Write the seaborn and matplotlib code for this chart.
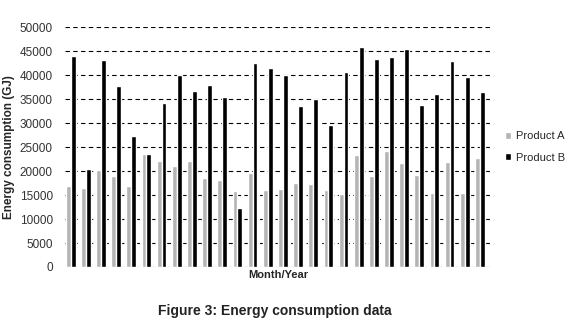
import numpy as np
import pandas as pd
import matplotlib
matplotlib.use('Agg')
import matplotlib.pyplot as plt
import seaborn as sns
from matplotlib.patches import Patch

sns.set_style('white')
plt.rcParams['font.family'] = ['Liberation Sans', 'DejaVu Sans']

months = [str(n) for n in range(1, 29)]
product_a = [16960, 16540, 20220, 19040, 16960, 23550, 22090, 21120, 22090, 18620,
             18140, 15860, 19600, 16060, 16270, 17520, 17310, 16060, 15300, 23340,
             18970, 24170, 21670, 19180, 15440, 21880, 15440, 22710]
product_b = [43900, 20430, 43080, 37680, 27290, 23550, 34150, 39900, 36700, 37880,
             35390, 12320, 42460, 41420, 39960, 33520, 34980, 29570, 40590, 45780,
             43290, 43700, 45370, 33730, 36010, 42870, 39550, 36430]

df = pd.DataFrame({'Month': months, 'Product A': product_a, 'Product B': product_b})
df = pd.melt(df, id_vars='Month', value_vars=['Product A', 'Product B'],
             var_name='Product', value_name='Energy')

fig = plt.figure(figsize=(5.72, 3.34), dpi=100)
ax = fig.add_axes([0.114, 0.2006, 0.746, 0.7185])

sns.barplot(x='Month', y='Energy', hue='Product', data=df, ax=ax,
            palette=['#b4b4b4', '#000000'], width=0.64, gap=0, saturation=1,
            legend=False)

ax.set_ylim(0, 50000)
ax.set_yticks(np.arange(0, 50001, 5000))
ax.set_xlim(-0.36, 27.79)
ax.yaxis.grid(True, linestyle=(0, (4, 3)), color='black', linewidth=0.8)
ax.set_axisbelow(True)
for s in ax.spines.values():
    s.set_visible(False)
ax.set_xticks([])
ax.tick_params(axis='y', labelsize=8.5, length=0, pad=9, colors='#333333')

ax.set_ylabel('Energy consumption (GJ)', fontsize=8.5, fontweight='bold', labelpad=3)
ax.set_xlabel('Month/Year', fontsize=8, fontweight='bold', labelpad=2)

handles = [Patch(facecolor='#b4b4b4'), Patch(facecolor='#000000')]
fig.legend(handles, ['Product A', 'Product B'], loc='center left',
           bbox_to_anchor=(0.865, 0.56), frameon=False, fontsize=8,
           handlelength=0.6, handleheight=0.6, handletextpad=0.4, labelspacing=1.0)

fig.text(0.48, 0.068, 'Figure 3: Energy consumption data', ha='center', va='center',
         fontsize=10, fontweight='bold', color='#222222')

fig.savefig('out.png', dpi=100)
